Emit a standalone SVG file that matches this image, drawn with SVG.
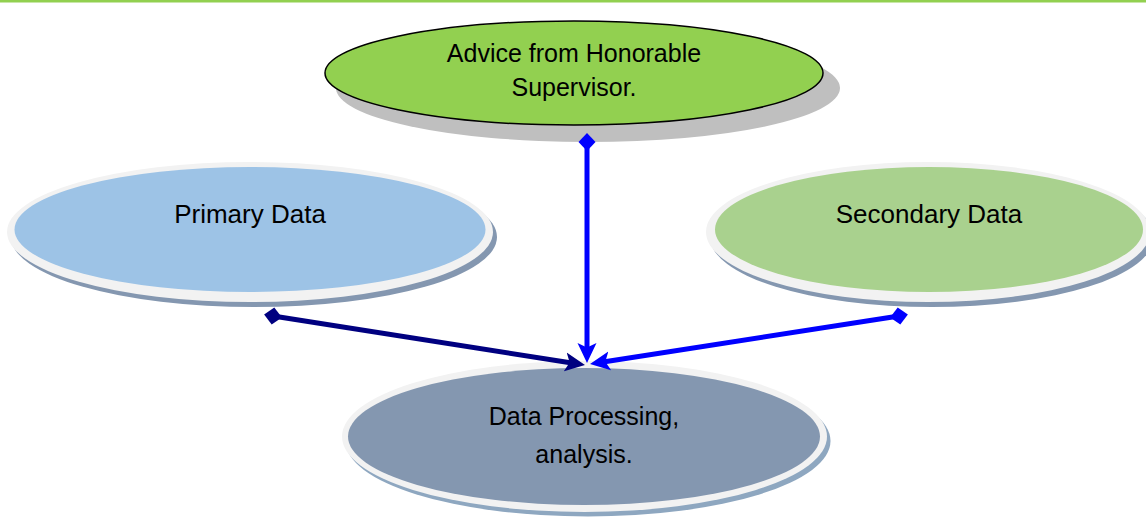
<svg xmlns="http://www.w3.org/2000/svg" width="1146" height="517" viewBox="0 0 1146 517">
  <style>
    .label { font-family: "Liberation Sans", Arial, sans-serif; font-size: 25px; fill: #000000; text-anchor: middle; }
    .big { font-size: 26px; }
    .ring { fill: #F2F2F2; }
    .edge { fill: none; stroke-width: 5; }
  </style>
  <defs>
    <marker id="diamondNavy" markerUnits="userSpaceOnUse" markerWidth="20" markerHeight="20" viewBox="0 -10 20 20" refX="9" refY="0" orient="auto">
      <path d="M0,0 L9,-8.5 L18,0 L9,8.5 Z" fill="#000080"/>
    </marker>
    <marker id="diamondBlue" markerUnits="userSpaceOnUse" markerWidth="20" markerHeight="20" viewBox="0 -10 20 20" refX="9" refY="0" orient="auto">
      <path d="M0,0 L9,-8.5 L18,0 L9,8.5 Z" fill="#0000FF"/>
    </marker>
    <marker id="arrowNavy" markerUnits="userSpaceOnUse" markerWidth="22" markerHeight="22" viewBox="0 -11 22 22" refX="10" refY="0" orient="auto">
      <path d="M20,0 L0,-9.5 L4.5,0 L0,9.5 Z" fill="#000080"/>
    </marker>
    <marker id="arrowBlue" markerUnits="userSpaceOnUse" markerWidth="22" markerHeight="22" viewBox="0 -11 22 22" refX="10" refY="0" orient="auto">
      <path d="M20,0 L0,-9.5 L4.5,0 L0,9.5 Z" fill="#0000FF"/>
    </marker>
  </defs>

  <!-- page rule -->
  <rect x="0" y="0" width="1146" height="2.5" fill="#92D050"/>

  <g id="advice">
    <ellipse cx="588" cy="88" rx="252" ry="54" fill="#BFBFBF"/>
    <ellipse cx="574" cy="73" rx="249" ry="52" fill="#92D050" stroke="#000000" stroke-width="1.5"/>
    <text class="label" x="574" y="62">Advice from Honorable</text>
    <text class="label" x="574" y="96">Supervisor.</text>
  </g>

  <g id="primary">
    <ellipse cx="254" cy="237" rx="243" ry="70" fill="#8497B0"/>
    <ellipse class="ring" cx="250" cy="232" rx="243" ry="70"/>
    <ellipse cx="250" cy="229.5" rx="235.5" ry="62.5" fill="#9DC3E6"/>
    <text class="label big" x="250" y="223">Primary Data</text>
  </g>

  <g id="secondary">
    <ellipse cx="932" cy="237" rx="222" ry="70" fill="#8497B0"/>
    <ellipse class="ring" cx="928" cy="232" rx="222" ry="70"/>
    <ellipse cx="929" cy="229.5" rx="214" ry="62.5" fill="#A9D18E"/>
    <text class="label big" x="929" y="223">Secondary Data</text>
  </g>

  <g id="processing">
    <ellipse cx="588" cy="441" rx="242.5" ry="75.5" fill="#8EA7C0"/>
    <ellipse class="ring" cx="584.5" cy="436.5" rx="242.5" ry="75.5"/>
    <ellipse cx="584" cy="436.5" rx="236" ry="68.5" fill="#8497B0"/>
    <text class="label" x="584" y="425">Data Processing,</text>
    <text class="label" x="584" y="463">analysis.</text>
  </g>

  <g id="connectors">
    <path class="edge" d="M273,316 L575.1,363.45" stroke="#000080" marker-start="url(#diamondNavy)" marker-end="url(#arrowNavy)"/>
    <path class="edge" d="M587,142 L587,353" stroke="#0000FF" stroke-width="4" marker-start="url(#diamondBlue)" marker-end="url(#arrowBlue)"/>
    <path class="edge" d="M899,316 L599.9,362.5" stroke="#0000FF" marker-start="url(#diamondBlue)" marker-end="url(#arrowBlue)"/>
  </g>
</svg>
